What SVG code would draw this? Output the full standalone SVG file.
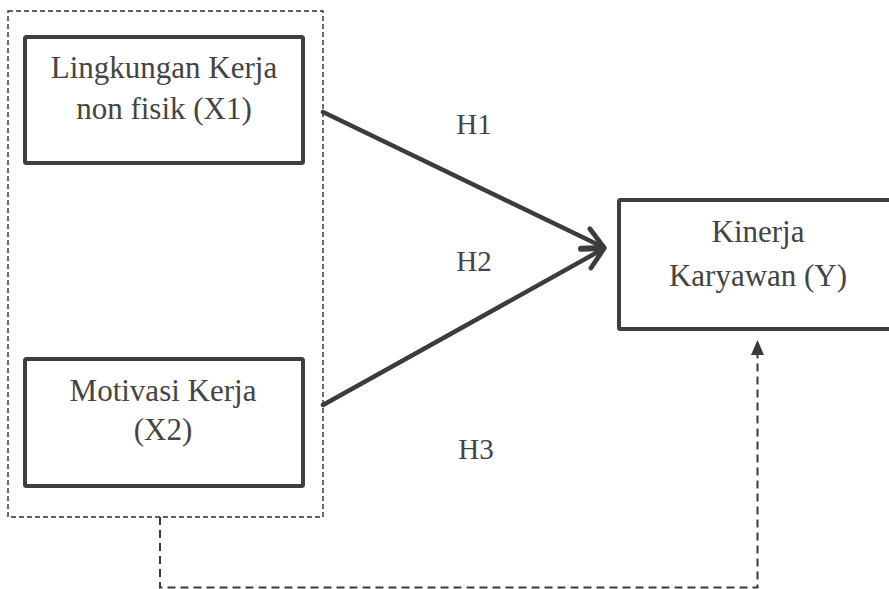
<svg xmlns="http://www.w3.org/2000/svg" width="889" height="589" viewBox="0 0 889 589">
  <style>
    .box { fill: #ffffff; stroke: #3f3f3f; stroke-width: 4; }
    .lbl { font-size: 31px; fill: #444444; text-anchor: middle; }
    .hyp { font-size: 29px; fill: #444444; text-anchor: middle; }
    .arrow { fill: none; stroke: #3c3c3c; stroke-width: 4.5; stroke-linecap: round; }
    .dash { fill: none; stroke: #3a3a3a; stroke-width: 2; stroke-dasharray: 8 5; }
    .group { fill: none; stroke: #2e2e2e; stroke-width: 1.4; stroke-dasharray: 5 3; }
  </style>
  <defs>
    <marker id="chev" markerUnits="userSpaceOnUse" markerWidth="30" markerHeight="30" refX="0" refY="0" viewBox="-24 -14 28 28" orient="auto">
      <path d="M -19.5 -10 L 0 0 L -19.5 10" fill="none" stroke="#3c3c3c" stroke-width="4.5" stroke-linecap="round" stroke-linejoin="round"/>
    </marker>
  </defs>
  <rect width="889" height="589" fill="#ffffff"/>

  <g id="group-x">
    <rect class="group" x="8" y="11" width="315" height="506"/>
  </g>

  <g id="connectors">
    <line class="arrow" x1="323" y1="112" x2="604" y2="247.5" marker-end="url(#chev)"/>
    <line class="arrow" x1="323" y1="405" x2="604" y2="248.5" marker-end="url(#chev)"/>
    <path class="dash" d="M 160 517 V 587.5 H 757.5 V 353"/>
    <polygon points="757.5,340 751,355 764,355" fill="#3a3a3a"/>
  </g>

  <g font-family="'Liberation Serif', 'Times New Roman', Tinos, serif">
    <g id="node-x1">
      <rect class="box" x="25" y="37" width="278" height="126" rx="1.5"/>
      <text class="lbl" x="164" y="78">Lingkungan Kerja</text>
      <text class="lbl" x="164" y="119">non fisik (X1)</text>
    </g>

    <g id="node-x2">
      <rect class="box" x="25" y="359" width="278" height="127" rx="1.5"/>
      <text class="lbl" x="163" y="401">Motivasi Kerja</text>
      <text class="lbl" x="163" y="440">(X2)</text>
    </g>

    <g id="node-y">
      <rect class="box" x="619" y="200" width="300" height="129" rx="1.5"/>
      <text class="lbl" x="758" y="242">Kinerja</text>
      <text class="lbl" x="758" y="286">Karyawan (Y)</text>
    </g>

    <g id="labels">
      <text class="hyp" x="474" y="134">H1</text>
      <text class="hyp" x="474" y="271">H2</text>
      <text class="hyp" x="476" y="459">H3</text>
    </g>
  </g>
</svg>
